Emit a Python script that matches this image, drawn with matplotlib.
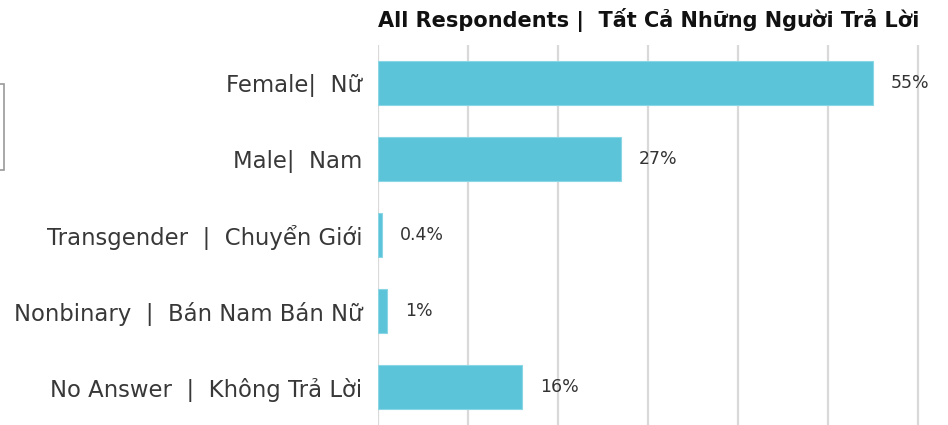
import matplotlib.pyplot as plt
from matplotlib.patches import Rectangle

plt.rcParams['font.family'] = ['DejaVu Sans']

# Data
categories = ['Female|  Nữ', 'Male|  Nam', 'Transgender  |  Chuyển Giới',
              'Nonbinary  |  Bán Nam Bán Nữ', 'No Answer  |  Không Trả Lời']
values = [55, 27, 0.4, 1, 16]
value_labels = ['55%', '27%', '0.4%', '1%', '16%']

fig = plt.figure(figsize=(9.48, 4.25), dpi=100)
ax = fig.add_axes([378 / 948, 0, 1 - 378 / 948, 380 / 425])

y = list(range(len(categories)))
ax.barh(y, values, height=0.58, color='#5BC4D9', edgecolor='#8ad6e4', linewidth=0.8, zorder=2)

ax.set_xlim(0, 63.33)
ax.set_ylim(len(categories) - 0.5, -0.5)
ax.set_xticks(range(0, 61, 10))
ax.set_xticklabels([])
ax.tick_params(axis='x', length=0)
ax.grid(axis='x', color='#d9d9d9', linewidth=1.6, zorder=0)
ax.set_yticks(y)
ax.set_yticklabels(categories, fontsize=16.4, color='#383838')
ax.tick_params(axis='y', length=0, pad=11.5)
for s in ax.spines.values():
    s.set_visible(False)

for yi, v, lab in zip(y, values, value_labels):
    ax.text(v + 2.0, yi, lab, va='center', ha='left', fontsize=12.5, color='#333333')

fig.text(649 / 948, 1 - 20 / 425, 'All Respondents |  Tất Cả Những Người Trả Lời',
         ha='center', va='center', fontsize=15, fontweight='bold', color='#111111')

# partially cropped legend frame at left edge
fig.patches.append(Rectangle((-0.01, 1 - 170 / 425), 0.014, 86 / 425,
                             transform=fig.transFigure, fill=False,
                             edgecolor='#999999', linewidth=1.2))

plt.savefig('out.png', dpi=100)
